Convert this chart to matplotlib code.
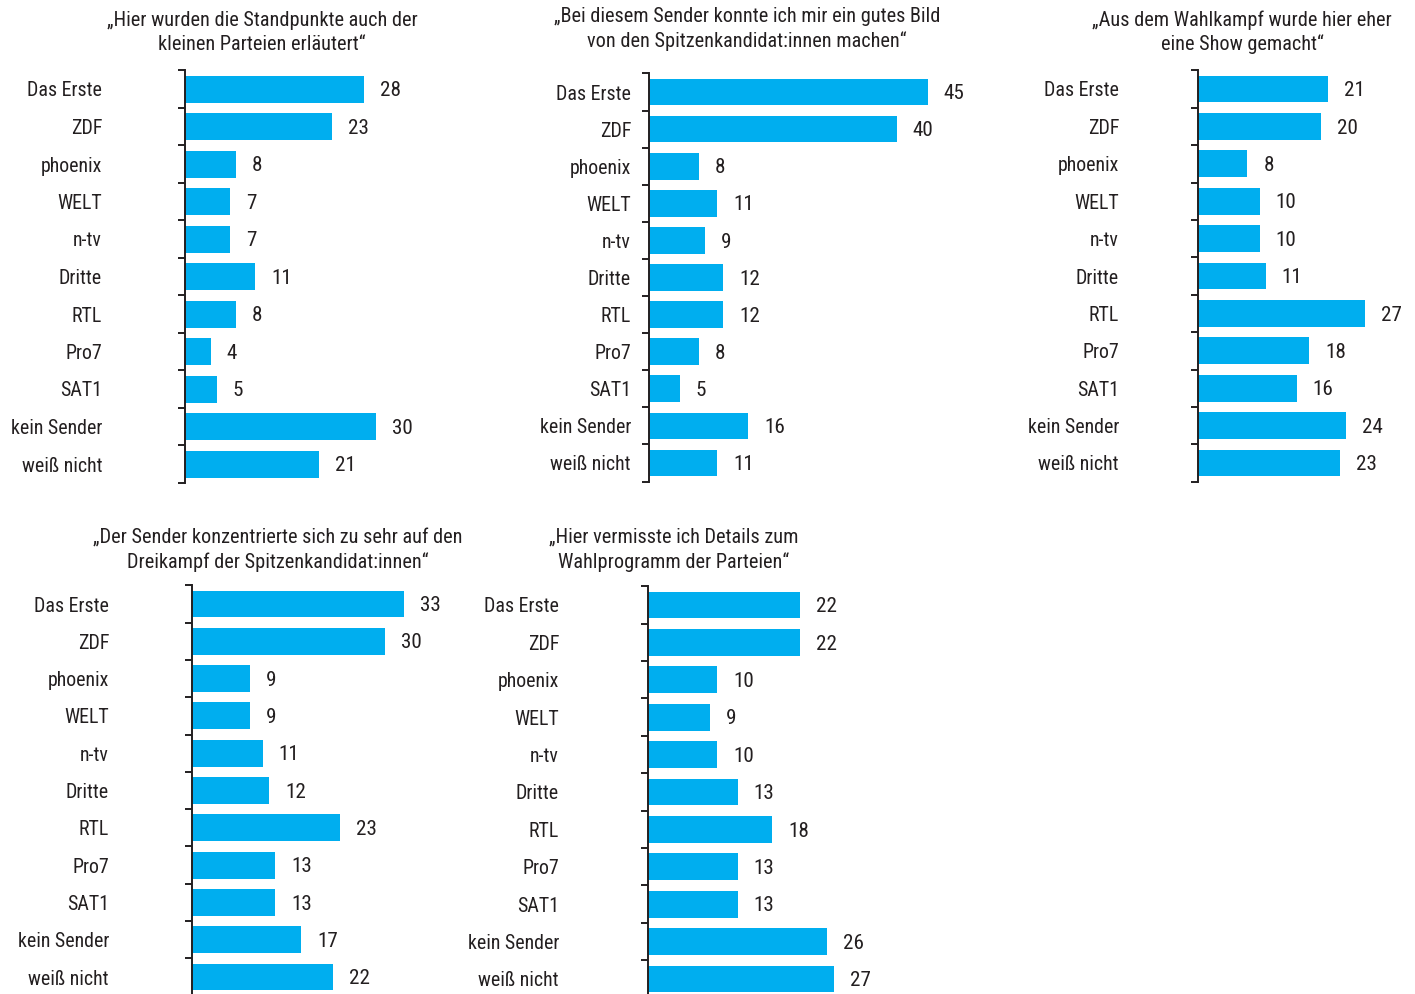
import matplotlib
matplotlib.use('Agg')
import matplotlib.pyplot as plt
from matplotlib import font_manager
from matplotlib.ticker import FixedLocator

categories = ["Das Erste", "ZDF", "phoenix", "WELT", "n-tv", "Dritte", "RTL",
              "Pro7", "SAT1", "kein Sender", "weiß nicht"]

title1 = "„Hier wurden die Standpunkte auch der\nkleinen Parteien erläutert“"
title2 = "„Bei diesem Sender konnte ich mir ein gutes Bild\nvon den Spitzenkandidat:innen machen“"
title3 = "„Aus dem Wahlkampf wurde hier eher\neine Show gemacht“"
title4 = "„Der Sender konzentrierte sich zu sehr auf den\nDreikampf der Spitzenkandidat:innen“"
title5 = "„Hier vermisste ich Details zum\nWahlprogramm der Parteien“"

values1 = [28, 23, 8, 7, 7, 11, 8, 4, 5, 30, 21]
values2 = [45, 40, 8, 11, 9, 12, 12, 8, 5, 16, 11]
values3 = [21, 20, 8, 10, 10, 11, 27, 18, 16, 24, 23]
values4 = [33, 30, 9, 9, 11, 12, 23, 13, 13, 17, 22]
values5 = [22, 22, 10, 9, 10, 13, 18, 13, 13, 26, 27]

W, H = 1415, 994
DPI = 100
installed = {f.name for f in font_manager.fontManager.ttflist}
candidates = ['Roboto Condensed', 'DejaVu Sans Condensed', 'Liberation Sans Narrow',
              'Open Sans Condensed', 'Noto Sans Condensed']
fams = [c for c in candidates if c in installed]
plt.rcParams['font.family'] = fams + ['Liberation Sans', 'DejaVu Sans']
TXT = '#231f20'
BAR = '#00aeef'
FS_LAB = 14.3
FS_TITLE = 14.6
FS_VAL = 15.2

fig = plt.figure(figsize=(W / DPI, H / DPI), dpi=DPI)

layout = [
    (185, 89, 37.5, 6.38, 35, 102, 262, (20, 44)),
    (649, 92, 37.1, 6.19, 50, 631, 747, (16, 41)),
    (1198, 89, 37.4, 6.17, 33, 1119, 1242, (20, 44)),
    (192, 604, 37.3, 6.42, 40, 109, 278, (537, 562)),
    (648, 605, 37.4, 6.90, 35, 559, 674, (537, 562)),
]
titles = [title1, title2, title3, title4, title5]
series = [values1, values2, values3, values4, values5]

n = len(categories)
for (sx, c0, sp, scale, xmax, lab_end, tcx, tys), title, vals in zip(layout, titles, series):
    top = c0 - sp / 2
    bottom = top + n * sp
    ax = fig.add_axes([sx / W, 1 - bottom / H, xmax * scale / W, n * sp / H])
    ypos = list(range(n))
    ax.barh(ypos, vals, height=0.72, color=BAR, edgecolor='none')
    ax.set_xlim(0, xmax)
    ax.set_ylim(n - 0.5, -0.5)
    for s in ['top', 'right', 'bottom']:
        ax.spines[s].set_visible(False)
    ax.spines['left'].set_color(TXT)
    ax.spines['left'].set_linewidth(1.4)
    ax.set_xticks([])
    ax.yaxis.set_major_locator(FixedLocator(ypos))
    ax.set_yticklabels(categories)
    ax.yaxis.set_minor_locator(FixedLocator([i - 0.5 for i in range(n + 1)]))
    ax.tick_params(axis='y', which='major', length=0, pad=(sx - lab_end) * 0.72,
                   labelsize=FS_LAB, labelcolor=TXT)
    ax.tick_params(axis='y', which='minor', length=5, width=1.4, color=TXT, direction='out')
    for i, v in enumerate(vals):
        ax.annotate(str(v), (v, i), xytext=(16 * 0.72, -1.2), textcoords='offset points',
                    va='center', ha='left', fontsize=FS_VAL, color=TXT)
    for line, ty in zip(title.split('\n'), tys):
        fig.text(tcx / W, 1 - ty / H, line, ha='center', va='center',
                 fontsize=FS_TITLE, color=TXT)

fig.savefig('out.png', dpi=DPI)
